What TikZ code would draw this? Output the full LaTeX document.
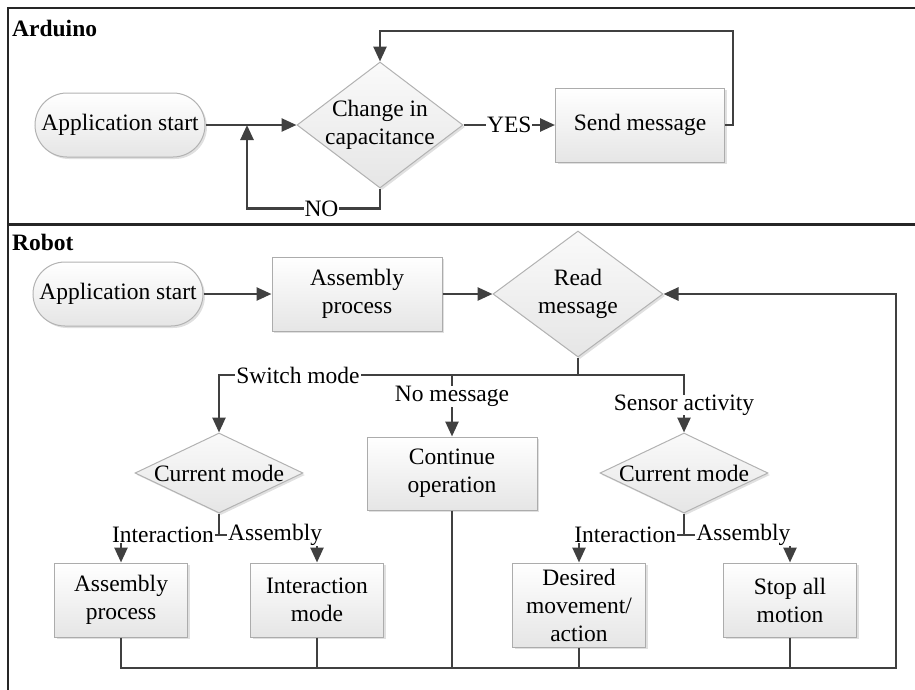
\documentclass[tikz,border=0pt]{standalone}
\usepackage{fontspec}
\setmainfont{Liberation Serif}
\usetikzlibrary{shapes.geometric,arrows.meta,shadows}
\begin{document}
\begin{tikzpicture}[x=1pt,y=-1pt,
  font=\fontsize{23.5}{28}\selectfont,
  proc/.style={rectangle, draw=gray!65, line width=1pt, top color=white, bottom color=gray!20,
    align=center, inner sep=0pt,
    drop shadow={shadow xshift=2pt,shadow yshift=-2pt,opacity=0.12,fill=black}},
  term/.style={rectangle, rounded corners=32pt, draw=gray!60, line width=1pt, top color=white,
    bottom color=gray!20, minimum width=170pt, minimum height=64pt, inner sep=0pt,
    drop shadow={shadow xshift=2pt,shadow yshift=-2pt,opacity=0.12,fill=black}},
  dec/.style={diamond, draw=gray!60, line width=1pt, top color=gray!4, bottom color=gray!20,
    inner sep=0pt,
    drop shadow={shadow xshift=2pt,shadow yshift=-2pt,opacity=0.12,fill=black}},
  dectext/.style={align=center, inner sep=0pt},
  conn/.style={draw=black!75, line width=2.6pt, -{Triangle[length=15pt,width=13pt]}},
  wire/.style={draw=black!75, line width=2.6pt},
  lab/.style={fill=white, inner xsep=1pt, inner ysep=0pt},
  frame/.style={draw=black!85, line width=2.5pt},
  paneltitle/.style={font=\fontsize{23.5}{28}\selectfont\bfseries, anchor=west, inner sep=0pt}
]
\useasboundingbox (0,0) rectangle (915,689);

% frame
\draw[frame] (916,8) -- (8,8) -- (8,690);
\draw[frame, line width=3pt] (8,224) -- (916,224);

% ---------- Arduino ----------
\node[paneltitle] (tA) at (12,28) {Arduino};
\node[term] (a0) at (120,125) {Application start};
\node[dec, minimum width=166pt, minimum height=126pt] (a1) at (380,125) {};
\node[dectext] (a1t) at (a1) {Change in\\capacitance};
\node[proc, minimum width=169pt, minimum height=74pt] (a2) at (640,125) {Send message};
\coordinate (aj) at (247,125);

\draw[conn] (a0.east) -- (a1.west);
\draw[conn] (a1.south) -- ++(0,20) -| node[lab,pos=0.22]{NO} (aj);
\draw[conn] (a1.east) -- node[lab]{YES} (a2.west);
\draw[conn] (a2.east) -- ++(8,0) |- (380,31) -- (a1.north);

% ---------- Robot ----------
\node[paneltitle] (tR) at (12,242) {Robot};
\node[term] (r0) at (118,294) {Application start};
\node[proc, minimum width=170pt, minimum height=74pt] (r1) at (357,294) {Assembly\\process};
\node[dec, minimum width=170pt, minimum height=126pt] (r2) at (578,294) {};
\node[dectext] (r2t) at (r2) {Read\\message};

\node[dec, minimum width=168pt, minimum height=80pt] (c1) at (219,473) {};
\node[dectext] (c1t) at (c1) {Current mode};
\node[dec, minimum width=168pt, minimum height=80pt] (c2) at (684,473) {};
\node[dectext] (c2t) at (c2) {Current mode};
\node[proc, minimum width=170pt, minimum height=73pt] (co) at (452,473.5) {Continue\\operation};

\node[proc, minimum width=133pt, minimum height=74pt] (b1) at (121,600) {Assembly\\process};
\node[proc, minimum width=133pt, minimum height=74pt] (b2) at (317,600) {Interaction\\mode};
\node[proc, minimum width=133pt, minimum height=84pt] (b3) at (579,605) {Desired\\movement/\\action};
\node[proc, minimum width=133pt, minimum height=74pt] (b4) at (790,600) {Stop all\\motion};

\coordinate (sp) at (578,375);
\coordinate (k1) at (219,535);
\coordinate (k2) at (684,535);
\coordinate (bus) at (896,668);

\draw[conn] (r0.east) -- (r1.west);
\draw[conn] (r1.east) -- (r2.west);
\draw[wire] (r2.south) -- (sp);
\draw[conn] (sp) -| node[lab,pos=0.39]{Switch mode} (c1.north);
\draw[conn] (sp) -| node[lab,pos=0.76]{Sensor activity} (c2.north);
\draw[conn] (co.north |- sp) -- node[lab,pos=0.35]{No message} (co.north);

\draw[wire] (c1.south) -- (k1);
\draw[conn] (k1) -| node[lab,pos=0.286]{Interaction} (b1.north);
\draw[conn] (k1) -| node[lab,pos=0.286]{Assembly} (b2.north);
\draw[wire] (c2.south) -- (k2);
\draw[conn] (k2) -| node[lab,pos=0.28]{Interaction} (b3.north);
\draw[conn] (k2) -| node[lab,pos=0.28]{Assembly} (b4.north);

\draw[conn] (b1.south) |- (bus) |- (r2.east);
\draw[wire] (b2.south) -- (b2.south |- bus);
\draw[wire] (co.south) -- (co.south |- bus);
\draw[wire] (b3.south) -- (b3.south |- bus);
\draw[wire] (b4.south) -- (b4.south |- bus);
\end{tikzpicture}
\end{document}
